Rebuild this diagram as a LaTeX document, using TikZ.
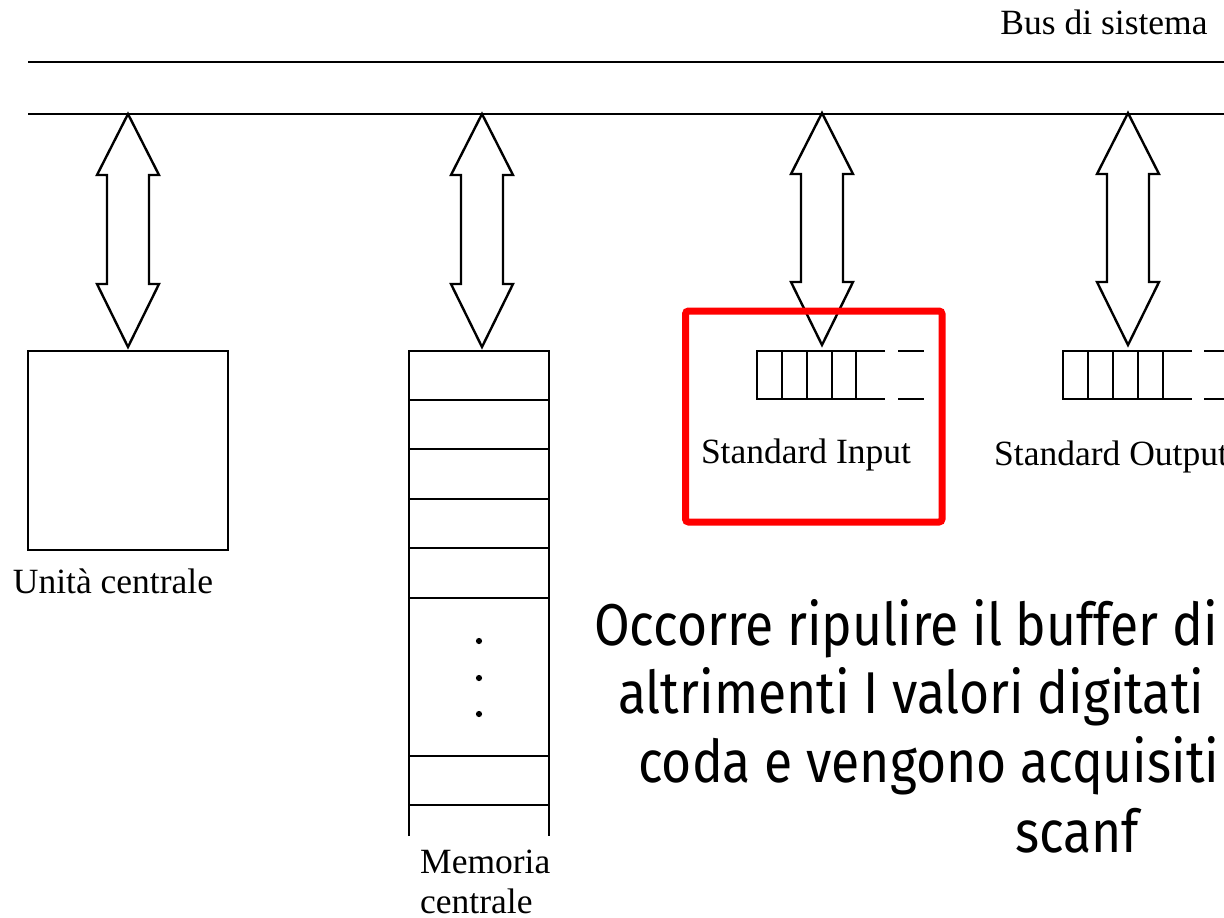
\documentclass[tikz,border=0pt]{standalone}
\usepackage{fontspec}
\setmainfont{Liberation Serif}
\newfontfamily\notefont[FakeStretch=0.875]{Fira Sans}
\begin{document}
\begin{tikzpicture}[x=1pt,y=-1pt,
  line/.style={line width=2.4pt, line join=miter},
  lbl/.style={inner sep=0pt, font=\fontsize{35.5}{40}\selectfont},
  note/.style={inner sep=0pt, anchor=base west, font=\notefont\fontsize{59}{69}\selectfont},
  hl/.style={draw=red, line width=7pt, rounded corners=3pt}]
\useasboundingbox (0,0) rectangle (1224,918);
% bus
\coordinate (busL1) at (28,62);  \coordinate (busR1) at (1224,62);
\coordinate (busL2) at (28,114); \coordinate (busR2) at (1224,114);
\draw[line] (busL1) -- (busR1);
\draw[line] (busL2) -- (busR2);
\node[lbl] (buslbl) at (1104,22) {Bus di sistema};
% double arrows
\newcommand\busarrow[3]{%
  \draw[line] (#1,#2) -- ({#1+31},{#2+61}) -- ({#1+21},{#2+61}) -- ({#1+21},{#3-63})
   -- ({#1+31},{#3-63}) -- (#1,#3) -- ({#1-31},{#3-63}) -- ({#1-21},{#3-63})
   -- ({#1-21},{#2+61}) -- ({#1-31},{#2+61}) -- cycle;}
\busarrow{128}{114}{347}
\busarrow{482}{114}{347}
\busarrow{822}{113}{345}
\busarrow{1128}{113}{345}
% central unit
\node[draw, line width=2.4pt, minimum width=200pt, minimum height=199pt, inner sep=0pt] (cpu) at (128,450.5) {};
\node[lbl] (cpulbl) at (113,581) {Unità centrale};
% memory
\coordinate (memTL) at (409,351); \coordinate (memTR) at (549,351);
\draw[line] (409,836) -- (memTL) -- (memTR) -- (549,836);
\foreach \yy in {400,449,499,548,598,756,805} \draw[line] (409,\yy) -- (549,\yy);
\foreach \yy in {641,678,714} \fill (479,\yy) circle (3.1pt);
\node[lbl, anchor=base west, align=left] (memlbl) at (420,913) {Memoria\\centrale};
% standard input queue
\draw[line] (885,351) -- (757,351) -- (757,399) -- (885,399);
\foreach \xx in {782,807,832,856} \draw[line] (\xx,351) -- (\xx,399);
\draw[line] (898,351) -- (924,351);
\draw[line] (898,399) -- (924,399);
\node[lbl] (inlbl) at (806,455) {Standard Input};
% standard output queue
\draw[line] (1192,351) -- (1063,351) -- (1063,399) -- (1192,399);
\foreach \xx in {1088,1113,1138,1163} \draw[line] (\xx,351) -- (\xx,399);
\draw[line] (1204,351) -- (1230,351);
\draw[line] (1204,399) -- (1230,399);
\node[lbl, anchor=west] (outlbl) at (994,457) {Standard Output};
% highlight
\draw[hl] (685.5,311) rectangle (942,522);
% note
\node[note] (n1) at (594,645) {Occorre ripulire il buffer di};
\node[note] (n2) at (618,713) {altrimenti I valori digitati};
\node[note] (n3) at (638,782) {coda e vengono acquisiti};
\node[note] (n4) at (1015,852) {scanf};
\end{tikzpicture}
\end{document}
